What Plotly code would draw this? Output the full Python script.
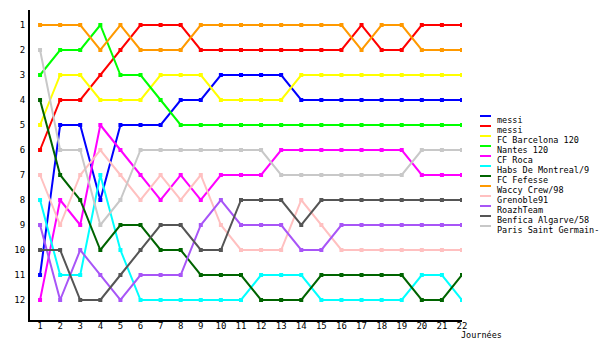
import plotly.graph_objects as go

journees = list(range(1, 23))

names = ["messi", "messi", "FC Barcelona 120", "Nantes 120", "CF Roca",
         "Habs De Montreal/9", "FC Fefesse", "Waccy Crew/98", "Grenoble91",
         "RoazhTeam", "Benfica Algarve/58", "Paris Saint Germain-"]
colors = ["#0000ff", "#ff0000", "#ffff00", "#00ff00", "#ff00ff", "#00ffff",
          "#006400", "#ff9900", "#ffc0c0", "#a855f7", "#555555", "#c8c8c8"]

messi_blue = [11, 5, 5, 8, 5, 5, 5, 4, 4, 3, 3, 3, 3, 4, 4, 4, 4, 4, 4, 4, 4, 4]
messi_red = [6, 4, 4, 3, 2, 1, 1, 1, 2, 2, 2, 2, 2, 2, 2, 2, 1, 2, 2, 1, 1, 1]
fc_barcelona = [5, 3, 3, 4, 4, 4, 3, 3, 3, 4, 4, 4, 4, 3, 3, 3, 3, 3, 3, 3, 3, 3]
nantes = [3, 2, 2, 1, 3, 3, 4, 5, 5, 5, 5, 5, 5, 5, 5, 5, 5, 5, 5, 5, 5, 5]
cf_roca = [12, 8, 9, 5, 6, 7, 8, 7, 8, 7, 7, 7, 6, 6, 6, 6, 6, 6, 6, 7, 7, 7]
habs = [8, 11, 11, 7, 10, 12, 12, 12, 12, 12, 12, 11, 11, 11, 12, 12, 12, 12, 12, 11, 11, 12]
fefesse = [4, 7, 8, 10, 9, 9, 10, 10, 11, 11, 11, 12, 12, 12, 11, 11, 11, 11, 11, 12, 12, 11]
waccy = [1, 1, 1, 2, 1, 2, 2, 2, 1, 1, 1, 1, 1, 1, 1, 1, 2, 1, 1, 2, 2, 2]
grenoble = [7, 9, 7, 6, 7, 8, 7, 8, 7, 9, 10, 10, 10, 8, 9, 10, 10, 10, 10, 10, 10, 10]
roazh = [9, 12, 10, 11, 12, 11, 11, 11, 9, 8, 9, 9, 9, 10, 10, 9, 9, 9, 9, 9, 9, 9]
benfica = [10, 10, 12, 12, 11, 10, 9, 9, 10, 10, 8, 8, 8, 9, 8, 8, 8, 8, 8, 8, 8, 8]
psg = [2, 6, 6, 9, 8, 6, 6, 6, 6, 6, 6, 6, 7, 7, 7, 7, 7, 7, 7, 6, 6, 6]

series = [messi_blue, messi_red, fc_barcelona, nantes, cf_roca, habs, fefesse,
          waccy, grenoble, roazh, benfica, psg]
rank_ticks = list(range(1, 13))

FONT = "DejaVu Sans Mono"

fig = go.Figure()
for name, color, vals in zip(names, colors, series):
    fig.add_trace(go.Scatter(
        x=journees, y=vals, name=name, mode="lines+markers",
        line=dict(color=color, width=2),
        marker=dict(symbol="square", size=4, color=color),
        showlegend=False, hoverinfo="skip",
    ))

# plot area in pixels
L, R, T, B = 30, 462, 10, 320
W, H = R - L, B - T

def px(xp):
    return (xp - L) / W

def py(yp):
    return (B - yp) / H

# custom compact legend
for i, (name, color) in enumerate(zip(names, colors)):
    ly = 116 + 10 * i
    fig.add_shape(type="line", xref="paper", yref="paper",
                  x0=px(480), x1=px(491), y0=py(ly), y1=py(ly),
                  line=dict(color=color, width=2))
    fig.add_annotation(xref="paper", yref="paper", x=px(495), y=py(ly + 4),
                       text=name, showarrow=False, xanchor="left", yanchor="middle",
                       font=dict(family=FONT, size=8.5, color="black"))

fig.add_annotation(xref="paper", yref="paper", x=px(459), y=py(335),
                   text="Journées", showarrow=False, xanchor="left", yanchor="middle",
                   font=dict(family=FONT, size=8.5, color="black"))

fig.update_layout(
    width=600, height=350,
    margin=dict(l=L, r=600 - R, t=T, b=350 - B),
    paper_bgcolor="white", plot_bgcolor="white",
    font=dict(family=FONT, size=9, color="black"),
    xaxis=dict(range=[0.5, 22], tickmode="array", tickvals=journees,
               ticktext=[str(j) for j in journees], showgrid=False, zeroline=False,
               showline=True, linecolor="black", linewidth=2, ticks="",
               ticklabelstandoff=-4, tickfont=dict(family=FONT, size=9)),
    yaxis=dict(range=[12.8, 0.4], tickmode="array", tickvals=rank_ticks,
               ticktext=[str(r) for r in rank_ticks], showgrid=False, zeroline=False,
               showline=True, linecolor="black", linewidth=2, ticks="",
               ticklabelstandoff=1, tickfont=dict(family=FONT, size=9)),
)

fig.write_html("out.html")
